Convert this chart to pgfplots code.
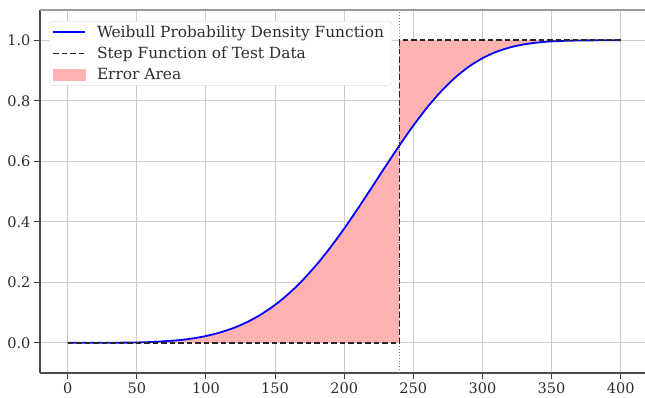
\documentclass[border=0pt]{standalone}
\usepackage{pgfplots}
\pgfplotsset{compat=1.18}
\usepackage{fontspec}
\setmainfont{DejaVu Serif}
\definecolor{errfill}{RGB}{255,178,178}
\definecolor{gridc}{RGB}{205,205,205}
\definecolor{txt}{RGB}{45,45,45}
\begin{document}
\begin{tikzpicture}
\useasboundingbox (0,0) rectangle (645pt,397pt);
\begin{axis}[
  at={(40pt,24pt)}, anchor=south west,
  scale only axis, width=608.3pt, height=363pt,
  xmin=-20, xmax=420, ymin=-0.1, ymax=1.1,
  xtick={0,50,...,400}, ytick={0,0.2,...,1.0},
  yticklabel style={/pgf/number format/.cd,fixed,fixed zerofill,precision=1},
  /pgf/number format/assume math mode=true,
  tick label style={font=\fontsize{14.5}{16}\selectfont, text=txt},
  tick align=outside, major tick length=6pt,
  tick style={black!75, line width=1pt},
  axis x line*=bottom, axis y line*=left,
  grid=major, major grid style={gridc, line width=1pt},
  axis line style={black!70, line width=1.4pt, -},
  legend style={at={(9pt,352pt)}, anchor=north west,
    font=\fontsize{15.4}{17}\selectfont, draw=black!15, rounded corners=3pt,
    inner xsep=3pt, inner ysep=3.5pt, text=txt, row sep=6pt,
    nodes={inner xsep=5pt, inner ysep=1pt},
    /tikz/column 1/.style={column sep=6pt}},
  legend cell align=left,
]
% error areas
\addplot[draw=none, fill=errfill, forget plot] coordinates {
(0,0) (50,0.00106) (80,0.00836) (100,0.0222) (110,0.0336) (120,0.0488) (130,0.0687) (140,0.0939) (150,0.1251) (160,0.1626) (170,0.2069) (180,0.2578) (190,0.3148) (200,0.3773) (210,0.4441) (220,0.5135) (230,0.5837) (240,0.6523) (240,0)
} -- cycle;
\addplot[draw=none, fill=errfill, forget plot] coordinates {
(240,1) (240,0.6523) (250,0.7177) (260,0.7775) (270,0.8304) (280,0.8754) (290,0.9120) (300,0.9405) (310,0.9616) (320,0.9764) (330,0.9863) (340,0.9925) (350,0.99615) (360,0.99815) (370,0.99917) (380,0.99966) (390,0.99987) (400,0.99995) (400,1)
} -- cycle;
% vertical dotted line
\addplot[gray, dotted, line width=0.9pt, forget plot] coordinates {(240,-0.1) (240,1.1)};
% curve
\addplot[blue, line width=1.8pt, smooth,
  legend image code/.code={\draw[blue, line width=1.8pt, sharp corners] (0pt,0pt) -- (32pt,0pt);}] table {
x y
0 0
40 0.000398
60 0.00237
80 0.00836
90 0.0140
100 0.0222
110 0.0336
120 0.0488
130 0.0687
140 0.0939
150 0.1251
160 0.1626
170 0.2069
180 0.2578
190 0.3148
200 0.3773
210 0.4441
220 0.5135
230 0.5837
240 0.6523
250 0.7177
260 0.7775
270 0.8304
280 0.8754
290 0.9120
300 0.9405
310 0.9616
320 0.9764
330 0.9863
340 0.9925
350 0.99615
360 0.99815
370 0.99917
380 0.99966
390 0.99987
400 0.99995
};
\addlegendentry{Weibull Probability Density Function}
\addplot[black!85, dash pattern=on 5.5pt off 3pt, line width=1.6pt,
  legend image code/.code={\draw[black!85, dash pattern=on 5.5pt off 3pt, line width=1.6pt, sharp corners] (0pt,0pt) -- (32pt,0pt);}]
  coordinates {(0,0) (240,0) (240,1) (400,1)};
\addlegendentry{Step Function of Test Data}
\addlegendimage{legend image code/.code={\fill[errfill, sharp corners] (0pt,-5.5pt) rectangle (32pt,5.5pt);}}
\addlegendentry{Error Area}
\draw[black!40, line width=1.4pt] (rel axis cs:0,1) -- (rel axis cs:1,1);
\end{axis}
\end{tikzpicture}
\end{document}
